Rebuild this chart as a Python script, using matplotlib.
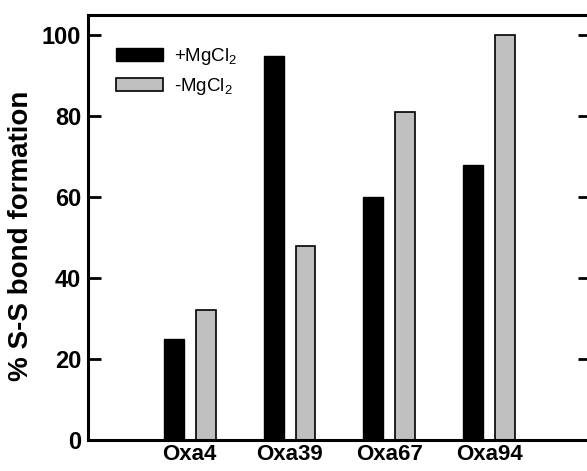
import numpy as np
import matplotlib.pyplot as plt
from matplotlib.patches import Patch

plt.rcParams['font.family'] = ['Liberation Sans', 'DejaVu Sans']
plt.rcParams['mathtext.default'] = 'regular'

groups = ['Oxa4', 'Oxa39', 'Oxa67', 'Oxa94']
with_mg = [25, 95, 60, 68]
without_mg = [32, 48, 81, 100]
y_ticks = [0, 20, 40, 60, 80, 100]

fig = plt.figure(figsize=(5.87, 4.71), dpi=100)
ax = fig.add_axes([0.15, 0.066, 0.855, 0.902])

x = np.arange(len(groups))
w = 0.2
off = 0.16
ax.bar(x - off, with_mg, w, color='black', edgecolor='black', linewidth=1)
ax.bar(x + off, without_mg, w, color='#c0c0c0', edgecolor='black', linewidth=1.2)

ax.set_xlim(-1.015, 4.005)
ax.set_ylim(0, 105)
ax.set_yticks(y_ticks)
ax.set_xticks(x)
ax.set_xticklabels(groups, fontsize=16, fontweight='bold')
for lab in ax.get_yticklabels():
    lab.set_fontsize(17)
    lab.set_fontweight('bold')
ax.tick_params(axis='y', direction='in', length=9, width=2, right=True, pad=5)
ax.tick_params(axis='x', length=0, pad=3)
for s in ax.spines.values():
    s.set_linewidth(2.2)

ax.set_ylabel('% S-S bond formation', fontsize=20, fontweight='bold')
# label sits a little below the axes centre in the original
ax.yaxis.set_label_coords(-0.108, 0.48)

handles = [Patch(facecolor='black', edgecolor='black', label='+MgCl$_2$'),
           Patch(facecolor='#c0c0c0', edgecolor='black', linewidth=1.2, label='-MgCl$_2$')]
ax.legend(handles=handles, loc='upper left', bbox_to_anchor=(0.055, 0.928), frameon=False,
          fontsize=13.5, handlelength=2.5, handleheight=0.7, handletextpad=0.6,
          labelspacing=0.5, borderpad=0.0, borderaxespad=0.0)

fig.savefig('out.png', dpi=100)
